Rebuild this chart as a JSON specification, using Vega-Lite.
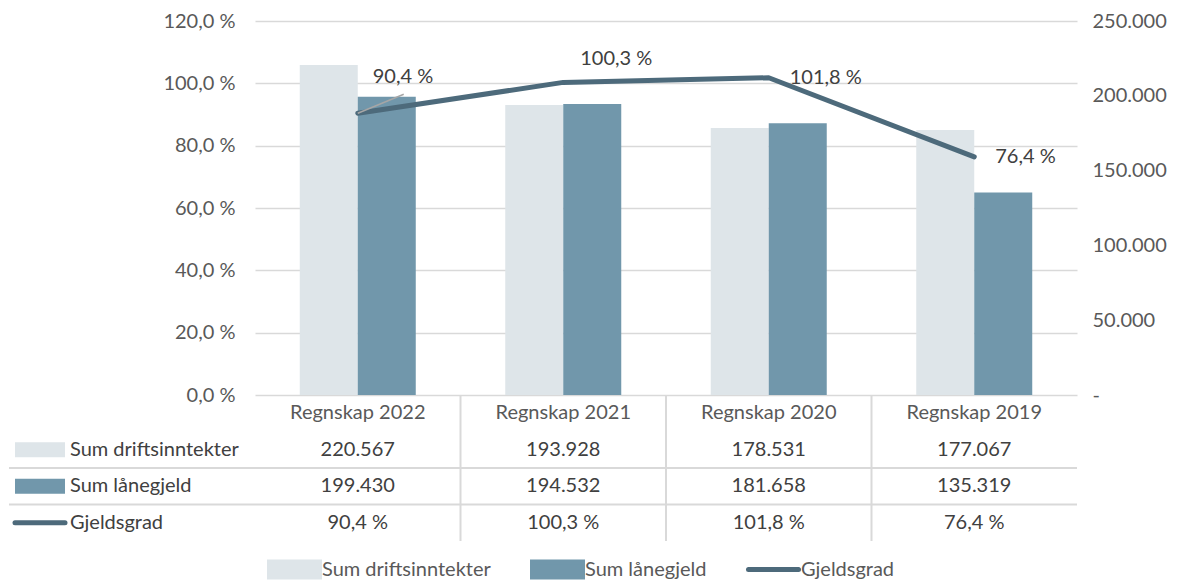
{
  "$schema": "https://vega.github.io/schema/vega-lite/v6.json",
  "padding": {"left": 5, "top": 11, "right": 5, "bottom": 0},
  "datasets": {
    "fin": [
      {"cat": "Regnskap 2022", "drift": 220567, "laan": 199430, "grad": 0.904},
      {"cat": "Regnskap 2021", "drift": 193928, "laan": 194532, "grad": 1.003},
      {"cat": "Regnskap 2020", "drift": 178531, "laan": 181658, "grad": 1.018},
      {"cat": "Regnskap 2019", "drift": 177067, "laan": 135319, "grad": 0.764}
    ],
    "rows": [
      {"row": "Sum driftsinntekter"},
      {"row": "Sum lånegjeld"},
      {"row": "Gjeldsgrad"}
    ]
  },
  "columns": 2,
  "spacing": 0,
  "bounds": "flush",
  "concat": [
    {
      "width": 246,
      "height": 374,
      "data": {"values": []},
      "mark": {"type": "point"},
      "encoding": {}
    },
    {
      "width": 822,
      "height": 374,
      "data": {"name": "fin"},
      "encoding": {
        "x": {
          "field": "cat", "type": "nominal",
          "sort": ["Regnskap 2022", "Regnskap 2021", "Regnskap 2020", "Regnskap 2019"],
          "scale": {"paddingInner": 0.4355, "paddingOuter": 0.2178},
          "axis": null
        }
      },
      "layer": [
        {
          "transform": [{"fold": ["drift", "laan"], "as": ["serie", "verdi"]}],
          "mark": {"type": "bar"},
          "encoding": {
            "xOffset": {"field": "serie", "type": "nominal", "scale": {"paddingInner": 0, "paddingOuter": 0}},
            "y": {
              "field": "verdi", "type": "quantitative",
              "scale": {"domain": [0, 250000], "nice": false},
              "axis": {
                "orient": "right", "title": null,
                "values": [0, 50000, 100000, 150000, 200000, 250000],
                "format": ",.0f",
                "labelExpr": "datum.value === 0 ? '-' : datum.label",
                "grid": false, "ticks": false, "domain": false,
                "labelPadding": 15, "labelAlign": "left"
              }
            },
            "color": {
              "field": "serie", "type": "nominal",
              "scale": {"domain": ["drift", "laan", "grad"], "range": ["#dee5e9", "#7197ab", "#4d6a7b"]},
              "legend": {
                "orient": "none", "legendX": 258, "legendY": 521,
                "direction": "horizontal", "title": null,
                "symbolSize": 2500, "labelFontSize": 20, "labelColor": "#595959",
                "labelOffset": 0, "columnPadding": 31, "padding": 0, "labelLimit": 400,
                "labelExpr": "datum.label === 'drift' ? 'Sum driftsinntekter' : datum.label === 'laan' ? 'Sum lånegjeld' : 'Gjeldsgrad'",
                "encode": {
                  "symbols": {
                    "update": {
                      "size": {"value": 2500},
                      "shape": {"signal": "datum.value === 'grad' ? 'M-1,-0.3M-1,0.3M-1,0H1' : 'M-1,-0.3H1V0.3H-1Z'"},
                      "fill": {"signal": "datum.value === 'grad' ? 'transparent' : (datum.value === 'drift' ? '#dee5e9' : '#7197ab')"},
                      "stroke": {"signal": "datum.value === 'grad' ? '#4d6a7b' : 'transparent'"},
                      "strokeWidth": {"value": 5},
                      "strokeCap": {"value": "round"},
                      "opacity": {"value": 1}
                    }
                  }
                }
              }
            }
          }
        },
        {
          "encoding": {
            "y": {
              "field": "grad", "type": "quantitative",
              "scale": {"domain": [0, 1.2], "nice": false},
              "axis": {
                "orient": "left", "title": null,
                "values": [0, 0.2, 0.4, 0.6, 0.8, 1.0, 1.2],
                "format": ".1%",
                "grid": true, "gridColor": "#d9d9d9", "gridWidth": 1.5,
                "ticks": false, "domain": false,
                "labelPadding": 20
              }
            }
          },
          "layer": [
            {
              "mark": {"type": "line", "strokeWidth": 5, "strokeCap": "round", "strokeJoin": "round"},
              "encoding": {"color": {"datum": "grad"}}
            },
            {
              "transform": [{"filter": "datum.cat === 'Regnskap 2022'"}],
              "mark": {"type": "rule", "color": "#a6a6a6", "strokeWidth": 1.5, "x2Offset": 46},
              "encoding": {
                "x2": {"field": "cat"},
                "y2": {"datum": 0.965}
              }
            },
            {
              "transform": [{"filter": "datum.cat === 'Regnskap 2020' || datum.cat === 'Regnskap 2019'"}],
              "mark": {"type": "text", "align": "left", "dx": 21, "dy": 0, "fontSize": 20, "color": "#404040"},
              "encoding": {"text": {"field": "grad", "format": ".1%"}}
            },
            {
              "transform": [{"filter": "datum.cat === 'Regnskap 2021'"}],
              "mark": {"type": "text", "align": "left", "dx": 17, "dy": -23, "fontSize": 20, "color": "#404040"},
              "encoding": {"text": {"field": "grad", "format": ".1%"}}
            },
            {
              "transform": [{"filter": "datum.cat === 'Regnskap 2022'"}],
              "mark": {"type": "text", "align": "left", "dx": 15, "dy": -36, "fontSize": 20, "color": "#404040"},
              "encoding": {"text": {"field": "grad", "format": ".1%"}}
            }
          ]
        }
      ],
      "resolve": {"scale": {"y": "independent"}}
    },
    {
      "width": 246,
      "height": 146,
      "data": {"name": "rows"},
      "encoding": {
        "y": {
          "field": "row", "type": "nominal",
          "scale": {"domain": ["hdr", "Sum driftsinntekter", "Sum lånegjeld", "Gjeldsgrad"], "paddingInner": 0, "paddingOuter": 0},
          "axis": null
        }
      },
      "layer": [
        {
          "transform": [{"filter": "datum.row !== 'Gjeldsgrad'"}],
          "mark": {"type": "rule", "color": "#d9d9d9", "strokeWidth": 2},
          "encoding": {"y": {"field": "row", "type": "nominal", "bandPosition": 1}}
        },
        {
          "mark": {"type": "point", "size": 2500, "strokeWidth": 5, "strokeCap": "round", "opacity": 1, "x": 31},
          "encoding": {
            "shape": {"field": "row", "type": "nominal", "scale": {"domain": ["Sum driftsinntekter", "Sum lånegjeld", "Gjeldsgrad"], "range": ["M-1,-0.3H1V0.3H-1Z", "M-1,-0.3H1V0.3H-1Z", "M-1,0H1"]}, "legend": null},
            "fill": {"field": "row", "type": "nominal", "scale": {"domain": ["Sum driftsinntekter", "Sum lånegjeld", "Gjeldsgrad"], "range": ["#dee5e9", "#7197ab", "transparent"]}, "legend": null},
            "stroke": {"field": "row", "type": "nominal", "scale": {"domain": ["Sum driftsinntekter", "Sum lånegjeld", "Gjeldsgrad"], "range": ["transparent", "transparent", "#4d6a7b"]}, "legend": null}
          }
        },
        {
          "mark": {"type": "text", "align": "left", "x": 61, "fontSize": 20, "color": "#404040"},
          "encoding": {"text": {"field": "row"}}
        }
      ]
    },
    {
      "width": 822,
      "height": 146,
      "data": {"name": "fin"},
      "encoding": {
        "x": {
          "field": "cat", "type": "nominal",
          "sort": ["Regnskap 2022", "Regnskap 2021", "Regnskap 2020", "Regnskap 2019"],
          "scale": {"paddingInner": 0, "paddingOuter": 0},
          "axis": null
        }
      },
      "layer": [
        {
          "data": {"name": "rows"},
          "transform": [{"filter": "datum.row !== 'Gjeldsgrad'"}],
          "mark": {"type": "rule", "color": "#d9d9d9", "strokeWidth": 2},
          "encoding": {
            "x": null,
            "y": {"field": "row", "type": "nominal", "bandPosition": 1,
              "scale": {"domain": ["hdr", "Sum driftsinntekter", "Sum lånegjeld", "Gjeldsgrad"], "paddingInner": 0, "paddingOuter": 0},
              "axis": null}
          }
        },
        {
          "transform": [{"filter": "datum.cat !== 'Regnskap 2022'"}],
          "mark": {"type": "rule", "color": "#d9d9d9", "strokeWidth": 2},
          "encoding": {"x": {"field": "cat", "type": "nominal", "bandPosition": 0, "sort": ["Regnskap 2022", "Regnskap 2021", "Regnskap 2020", "Regnskap 2019"]}}
        },
        {
          "mark": {"type": "text", "fontSize": 20, "color": "#595959"},
          "encoding": {"y": {"datum": "hdr", "type": "nominal"}, "text": {"field": "cat"}}
        },
        {
          "mark": {"type": "text", "fontSize": 20, "color": "#404040"},
          "encoding": {"y": {"datum": "Sum driftsinntekter", "type": "nominal"}, "text": {"field": "drift", "format": ",.0f"}}
        },
        {
          "mark": {"type": "text", "fontSize": 20, "color": "#404040"},
          "encoding": {"y": {"datum": "Sum lånegjeld", "type": "nominal"}, "text": {"field": "laan", "format": ",.0f"}}
        },
        {
          "mark": {"type": "text", "fontSize": 20, "color": "#404040"},
          "encoding": {"y": {"datum": "Gjeldsgrad", "type": "nominal"}, "text": {"field": "grad", "format": ".1%"}}
        }
      ]
    }
  ],
  "config": {
    "font": "Lato",
    "view": {"stroke": null},
    "axis": {"labelFont": "Lato", "labelFontSize": 20, "labelColor": "#595959"},
    "legend": {"labelFont": "Lato"},
    "text": {"font": "Lato"},
    "locale": {
      "number": {"decimal": ",", "thousands": ".", "grouping": [3], "currency": ["", " kr"], "percent": "\u00a0%"}
    }
  }
}
